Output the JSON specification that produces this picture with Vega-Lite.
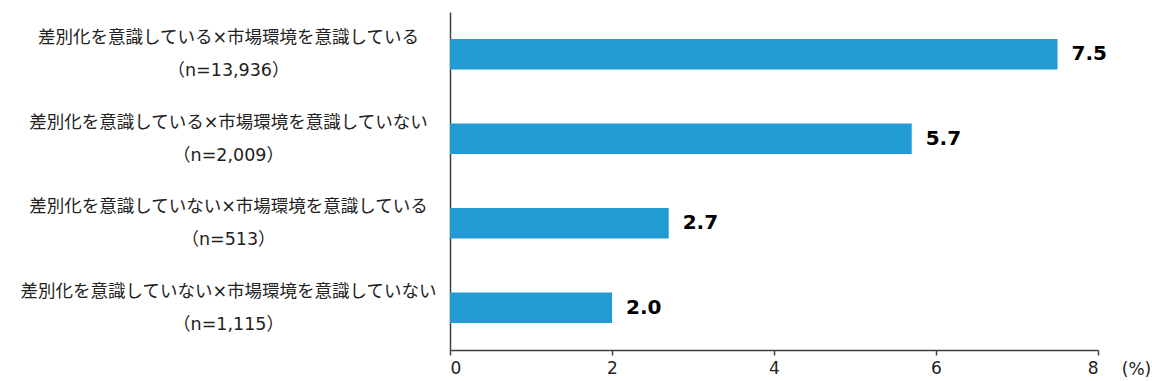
{
  "$schema": "https://vega.github.io/schema/vega-lite/v6.json",
  "autosize": "none",
  "width": 648,
  "height": 338,
  "padding": {"left": 450, "top": 12, "right": 54, "bottom": 31},
  "background": "white",
  "config": {"view": {"stroke": null}},
  "data": {
    "values": [
      {"group": "差別化を意識している×市場環境を意識している|（n=13,936）", "value": 7.5},
      {"group": "差別化を意識している×市場環境を意識していない|（n=2,009）", "value": 5.7},
      {"group": "差別化を意識していない×市場環境を意識している|（n=513）", "value": 2.7},
      {"group": "差別化を意識していない×市場環境を意識していない|（n=1,115）", "value": 2.0}
    ]
  },
  "encoding": {
    "y": {
      "field": "group",
      "type": "nominal",
      "sort": null,
      "scale": {"paddingInner": 0.64, "paddingOuter": 0.32},
      "axis": {
        "title": null,
        "ticks": false,
        "tickSize": 0,
        "labelExpr": "split(datum.label, '|')",
        "labelAlign": "center",
        "labelBaseline": "middle",
        "labelOffset": -16,
        "labelPadding": 222,
        "labelLineHeight": 33,
        "labelFont": "DejaVu Sans, Noto Sans CJK JP",
        "labelFontSize": 17.5,
        "labelColor": "#222222",
        "labelLimit": 0,
        "domainColor": "#404040",
        "domainWidth": 1.5
      }
    },
    "x": {
      "field": "value",
      "type": "quantitative",
      "scale": {"domain": [0, 8], "nice": false, "zero": true},
      "axis": {
        "values": [0, 2, 4, 6, 8],
        "grid": false,
        "title": "(%)",
        "titleFont": "DejaVu Sans",
        "titleFontSize": 17,
        "titleFontWeight": "normal",
        "titleColor": "#222222",
        "titleAngle": 0,
        "titleAlign": "center",
        "titleBaseline": "middle",
        "titleX": 686,
        "titleY": 19,
        "labelFont": "DejaVu Sans",
        "labelFontSize": 17,
        "labelColor": "#222222",
        "labelPadding": 5,
        "tickSize": 5,
        "tickColor": "#404040",
        "tickWidth": 1.5,
        "domainColor": "#404040",
        "domainWidth": 1.5
      }
    }
  },
  "layer": [
    {"mark": {"type": "bar", "color": "#229AD2"}},
    {
      "mark": {
        "type": "text",
        "align": "left",
        "baseline": "middle",
        "dx": 14,
        "font": "DejaVu Sans",
        "fontSize": 20,
        "fontWeight": "bold",
        "color": "#000000"
      },
      "encoding": {"text": {"field": "value", "type": "quantitative", "format": ".1f"}}
    }
  ]
}
